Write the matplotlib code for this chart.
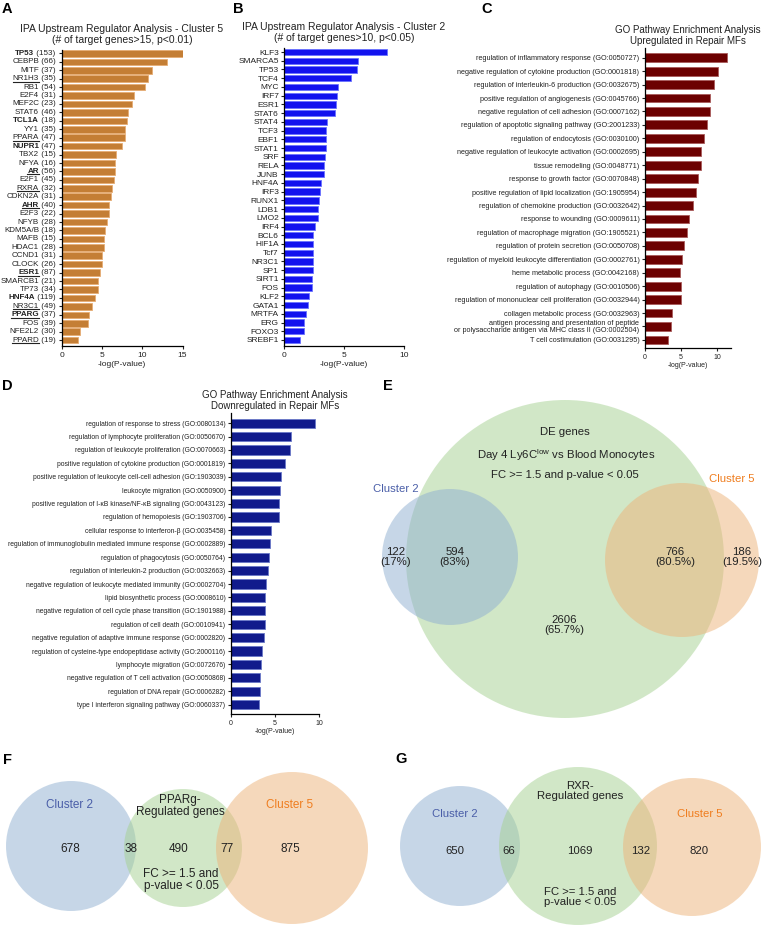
import matplotlib
matplotlib.use('Agg')
import matplotlib.pyplot as plt
from matplotlib.patches import Circle
from matplotlib.lines import Line2D
from matplotlib.transforms import IdentityTransform, offset_copy

plt.rcParams['font.family'] = ['Liberation Sans', 'DejaVu Sans']
plt.rcParams['mathtext.default'] = 'regular'

W, H = 763, 926

# ---- panel A: IPA upstream regulators, cluster 5
a_genes = ['TP53', 'CEBPB', 'MITF', 'NR1H3', 'RB1', 'E2F4', 'MEF2C', 'STAT6', 'TCL1A',
           'YY1', 'PPARA', 'NUPR1', 'TBX2', 'NFYA', 'AR', 'E2F1', 'RXRA', 'CDKN2A', 'AHR',
           'E2F3', 'NFYB', 'KDM5A/B', 'MAFB', 'HDAC1', 'CCND1', 'CLOCK', 'ESR1', 'SMARCB1',
           'TP73', 'HNF4A', 'NR3C1', 'PPARG', 'FOS', 'NFE2L2', 'PPARD']
a_counts = [153, 66, 37, 35, 54, 31, 23, 46, 18, 35, 47, 47, 15, 16, 56, 45, 32, 31, 40,
            22, 28, 18, 15, 28, 31, 26, 87, 21, 34, 119, 49, 37, 39, 30, 19]
a_values = [15.0, 13.06, 11.2, 10.7, 10.37, 8.93, 8.76, 8.22, 8.18, 7.93, 7.89, 7.56, 6.78,
            6.69, 6.61, 6.57, 6.28, 6.16, 5.87, 5.83, 5.62, 5.45, 5.29, 5.25, 5.08, 5.08,
            4.83, 4.5, 4.5, 4.21, 3.76, 3.39, 3.26, 2.27, 2.07]
a_bold = ['TP53', 'TCL1A', 'NUPR1', 'AR', 'AHR', 'ESR1', 'HNF4A', 'PPARG']
a_underline = ['NR1H3', 'PPARA', 'AR', 'RXRA', 'AHR', 'ESR1', 'NR3C1', 'PPARG', 'PPARD']

# ---- panel B: IPA upstream regulators, cluster 2
b_genes = ['KLF3', 'SMARCA5', 'TP53', 'TCF4', 'MYC', 'IRF7', 'ESR1', 'STAT6', 'STAT4',
           'TCF3', 'EBF1', 'STAT1', 'SRF', 'RELA', 'JUNB', 'HNF4A', 'IRF3', 'RUNX1', 'LDB1',
           'LMO2', 'IRF4', 'BCL6', 'HIF1A', 'Tcf7', 'NR3C1', 'SP1', 'SIRT1', 'FOS', 'KLF2',
           'GATA1', 'MRTFA', 'ERG', 'FOXO3', 'SREBF1']
b_values = [8.58, 6.15, 6.12, 5.56, 4.53, 4.44, 4.36, 4.22, 3.60, 3.49, 3.49, 3.46, 3.41,
            3.32, 3.30, 3.04, 2.99, 2.93, 2.85, 2.82, 2.57, 2.43, 2.43, 2.37, 2.37, 2.37,
            2.35, 2.35, 2.09, 2.01, 1.79, 1.62, 1.62, 1.34]

# ---- panel C: GO upregulated
c_terms = ['regulation of inflammatory response (GO:0050727)',
           'negative regulation of cytokine production (GO:0001818)',
           'regulation of interleukin-6 production (GO:0032675)',
           'positive regulation of angiogenesis (GO:0045766)',
           'negative regulation of cell adhesion (GO:0007162)',
           'regulation of apoptotic signaling pathway (GO:2001233)',
           'regulation of endocytosis (GO:0030100)',
           'negative regulation of leukocyte activation (GO:0002695)',
           'tissue remodeling (GO:0048771)',
           'response to growth factor (GO:0070848)',
           'positive regulation of lipid localization (GO:1905954)',
           'regulation of chemokine production (GO:0032642)',
           'response to wounding (GO:0009611)',
           'regulation of macrophage migration (GO:1905521)',
           'regulation of protein secretion (GO:0050708)',
           'regulation of myeloid leukocyte differentiation (GO:0002761)',
           'heme metabolic process (GO:0042168)',
           'regulation of autophagy (GO:0010506)',
           'regulation of mononuclear cell proliferation (GO:0032944)',
           'collagen metabolic process (GO:0032963)',
           'antigen processing and presentation of peptide\nor polysaccharide antigen via MHC class II (GO:0002504)',
           'T cell costimulation (GO:0031295)']
c_values = [11.34, 10.09, 9.63, 9.03, 8.98, 8.56, 8.15, 7.82, 7.78, 7.36, 7.13, 6.67, 6.11,
            5.83, 5.37, 5.19, 4.91, 4.95, 4.95, 3.75, 3.56, 3.24]

# ---- panel D: GO downregulated
d_terms = ['regulation of response to stress (GO:0080134)',
           'regulation of lymphocyte proliferation (GO:0050670)',
           'regulation of leukocyte proliferation (GO:0070663)',
           'positive regulation of cytokine production (GO:0001819)',
           'positive regulation of leukocyte cell-cell adhesion (GO:1903039)',
           'leukocyte migration (GO:0050900)',
           'positive regulation of I-\u03baB kinase/NF-\u03baB signaling (GO:0043123)',
           'regulation of hemopoiesis (GO:1903706)',
           'cellular response to interferon-\u03b2 (GO:0035458)',
           'regulation of immunoglobulin mediated immune response (GO:0002889)',
           'regulation of phagocytosis (GO:0050764)',
           'regulation of interleukin-2 production (GO:0032663)',
           'negative regulation of leukocyte mediated immunity (GO:0002704)',
           'lipid biosynthetic process (GO:0008610)',
           'negative regulation of cell cycle phase transition (GO:1901988)',
           'regulation of cell death (GO:0010941)',
           'negative regulation of adaptive immune response (GO:0002820)',
           'regulation of cysteine-type endopeptidase activity (GO:2000116)',
           'lymphocyte migration (GO:0072676)',
           'negative regulation of T cell activation (GO:0050868)',
           'regulation of DNA repair (GO:0006282)',
           'type I interferon signaling pathway (GO:0060337)']
d_values = [9.51, 6.79, 6.64, 6.08, 5.66, 5.55, 5.43, 5.40, 4.53, 4.42, 4.26, 4.15, 4.0,
            3.89, 3.89, 3.81, 3.70, 3.51, 3.40, 3.28, 3.28, 3.21]

# ---- Venn counts
e_counts = {'c2_only': '122\n(17%)', 'c2_de': '594\n(83%)', 'de_only': '2606\n(65.7%)',
            'c5_de': '766\n(80.5%)', 'c5_only': '186\n(19.5%)'}
f_counts = [678, 38, 490, 77, 875]
g_counts = [650, 66, 1069, 132, 820]

BLUE_TXT = '#4a5ea8'
ORANGE_TXT = '#ef7d1f'
TXT = '#222222'

fig = plt.figure(figsize=(W / 100, H / 100), dpi=100)


def px_axes(x0, x1, ytop, ybot):
    return fig.add_axes([x0 / W, 1 - ybot / H, (x1 - x0) / W, (ybot - ytop) / H])


def bar_panel(ax, values, color, edge, height, xmax, ticks, top_pad, bot_pad, fs):
    n = len(values)
    ax.barh(range(n), values, height=height, color=color, edgecolor=edge, linewidth=0.6)
    ax.set_ylim(n - 1 + bot_pad, -top_pad)
    ax.set_xlim(0, xmax)
    ax.set_xticks(ticks)
    for s in ['top', 'right']:
        ax.spines[s].set_visible(False)
    for s in ['left', 'bottom']:
        ax.spines[s].set_linewidth(0.9)
    ax.tick_params(axis='both', direction='out', length=2.5, width=0.8, pad=1.5,
                   labelsize=fs, colors=TXT)
    ax.set_yticks(range(n))


# Panel A
axA = px_axes(61.5, 182.5, 50, 346)
bar_panel(axA, a_values, '#c47e35', '#e6ad74', 0.78, 15, [0, 5, 10, 15], 0.4, 0.7, 6)
axA.set_yticklabels([''] * len(a_genes))
axA.set_title('IPA Upstream Regulator Analysis - Cluster 5\n(# of target genes>15, p<0.01)',
              fontsize=7.5, pad=5, color=TXT, linespacing=1.15)
axA.set_xlabel('-log(P-value)', fontsize=6, labelpad=1.5, color=TXT)
trA = offset_copy(axA.get_yaxis_transform(), fig=fig, x=-4.2, y=0, units='points')
gene_texts = []
for i, (g, c) in enumerate(zip(a_genes, a_counts)):
    ct = axA.text(0, i, ' (%d)' % c, transform=trA, ha='right', va='center',
                  fontsize=5.8, color=TXT)
    gt = axA.annotate(g, xy=(0, 0.5), xycoords=ct, ha='right', va='center', fontsize=5.8,
                      color=TXT, fontweight='bold' if g in a_bold else 'normal')
    if g in a_underline:
        gene_texts.append(gt)

# Panel B
axB = px_axes(284.3, 403.7, 48, 346)
bar_panel(axB, b_values, '#1212ee', '#6a72ff', 0.72, 10, [0, 5, 10], 0.46, 0.69, 6)
axB.set_yticklabels(b_genes)
axB.set_title('IPA Upstream Regulator Analysis - Cluster 2\n(# of target genes>10, p<0.05)',
              fontsize=7.5, pad=5, color=TXT, linespacing=1.15)
axB.set_xlabel('-log(P-value)', fontsize=6, labelpad=1.5, color=TXT)

# Panel C
axC = px_axes(645, 731.4, 48, 348)
bar_panel(axC, c_values, '#6c0000', '#a85a5a', 0.66, 12, [0, 5, 10], 0.72, 0.6, 5.2)
axC.set_yticklabels(c_terms, linespacing=0.95)
axC.tick_params(axis='x', labelsize=5)
axC.set_title('GO Pathway Enrichment Analysis\nUpregulated in Repair MFs',
              fontsize=7, pad=3, color=TXT, linespacing=1.1)
axC.set_xlabel('-log(P-value)', fontsize=5, labelpad=1, color=TXT)

# Panel D
axD = px_axes(231, 319.3, 413, 714)
bar_panel(axD, d_values, '#111b8c', '#6a78c8', 0.68, 10, [0, 5, 10], 0.76, 0.7, 4.9)
axD.tick_params(axis='x', labelsize=5)
axD.set_yticklabels(d_terms)
axD.set_title('GO Pathway Enrichment Analysis\nDownregulated in Repair MFs',
              fontsize=7, pad=3, color=TXT, linespacing=1.1)
axD.set_xlabel('-log(P-value)', fontsize=5, labelpad=1, color=TXT)

# overlay in pixel coordinates for the Venn diagrams and panel letters
ov = fig.add_axes([0, 0, 1, 1], zorder=-1)
ov.set_xlim(0, W)
ov.set_ylim(H, 0)
ov.axis('off')
ov.patch.set_alpha(0)

C_BLUE = '#8fafd1'
C_GREEN = '#a5d191'
C_ORANGE = '#edb379'


def circ(x, y, r, c):
    ov.add_patch(Circle((x, y), r, facecolor=c, edgecolor='none', alpha=0.5))


def txt(x, y, s, fs, color=TXT, **kw):
    ov.text(x, y, s, fontsize=fs, color=color, ha='center', va='center', **kw)


for lab, x, y in [('A', 7, 9), ('B', 238, 9), ('C', 487, 9), ('D', 7, 386),
                  ('E', 388, 386), ('F', 7, 760), ('G', 401, 759)]:
    txt(x, y, lab, 10.5, color='black', fontweight='bold')

# Panel E
circ(565, 559, 159, C_GREEN)
circ(450, 557, 68, C_BLUE)
circ(682, 560, 77, C_ORANGE)
txt(565, 432, 'DE genes', 8.2)
txt(566, 455, 'Day 4 Ly6C$^{low}$ vs Blood Monocytes', 8.2)
txt(565, 475, 'FC >= 1.5 and p-value < 0.05', 8.2)
txt(396, 489, 'Cluster 2', 8.2, color=BLUE_TXT)
txt(732, 479, 'Cluster 5', 8.2, color=ORANGE_TXT)
txt(396, 557, e_counts['c2_only'], 8.2, linespacing=1.1)
txt(455, 557, e_counts['c2_de'], 8.2, linespacing=1.1)
txt(675, 557, e_counts['c5_de'], 8.2, linespacing=1.1)
txt(742, 557, e_counts['c5_only'], 8.2, linespacing=1.1)
txt(564, 625, e_counts['de_only'], 8.2, linespacing=1.1)

# Panel F
circ(71, 846, 65, C_BLUE)
circ(183, 848, 59, C_GREEN)
circ(292, 848, 76, C_ORANGE)
txt(69, 805, 'Cluster 2', 8.5, color=BLUE_TXT)
txt(290, 805, 'Cluster 5', 8.5, color=ORANGE_TXT)
txt(180, 806, 'PPARg-\nRegulated genes', 8.5, linespacing=1.05)
for x, n in zip([70, 131, 179, 227, 290], f_counts):
    txt(x, 849, str(n), 8.5)
txt(181, 880, 'FC >= 1.5 and\np-value < 0.05', 8.5, linespacing=1.1)

# Panel G
circ(460, 846, 60, C_BLUE)
circ(578, 846, 79, C_GREEN)
circ(692, 847, 69, C_ORANGE)
txt(455, 814, 'Cluster 2', 8.2, color=BLUE_TXT)
txt(700, 814, 'Cluster 5', 8.2, color=ORANGE_TXT)
txt(580, 791, 'RXR-\nRegulated genes', 8.2, linespacing=1.05)
for x, n in zip([455, 509, 580, 641, 699], g_counts):
    txt(x, 851, str(n), 8.2)
txt(580, 897, 'FC >= 1.5 and\np-value < 0.05', 8.2, linespacing=1.05)

# underline selected gene names in panel A
fig.canvas.draw()
renderer = fig.canvas.get_renderer()
for gt in gene_texts:
    bb = gt.get_window_extent(renderer)
    fig.add_artist(Line2D([bb.x0, bb.x1], [bb.y0 + 0.6] * 2, transform=IdentityTransform(),
                          color=TXT, linewidth=0.8))

fig.savefig('out.png', dpi=100)
